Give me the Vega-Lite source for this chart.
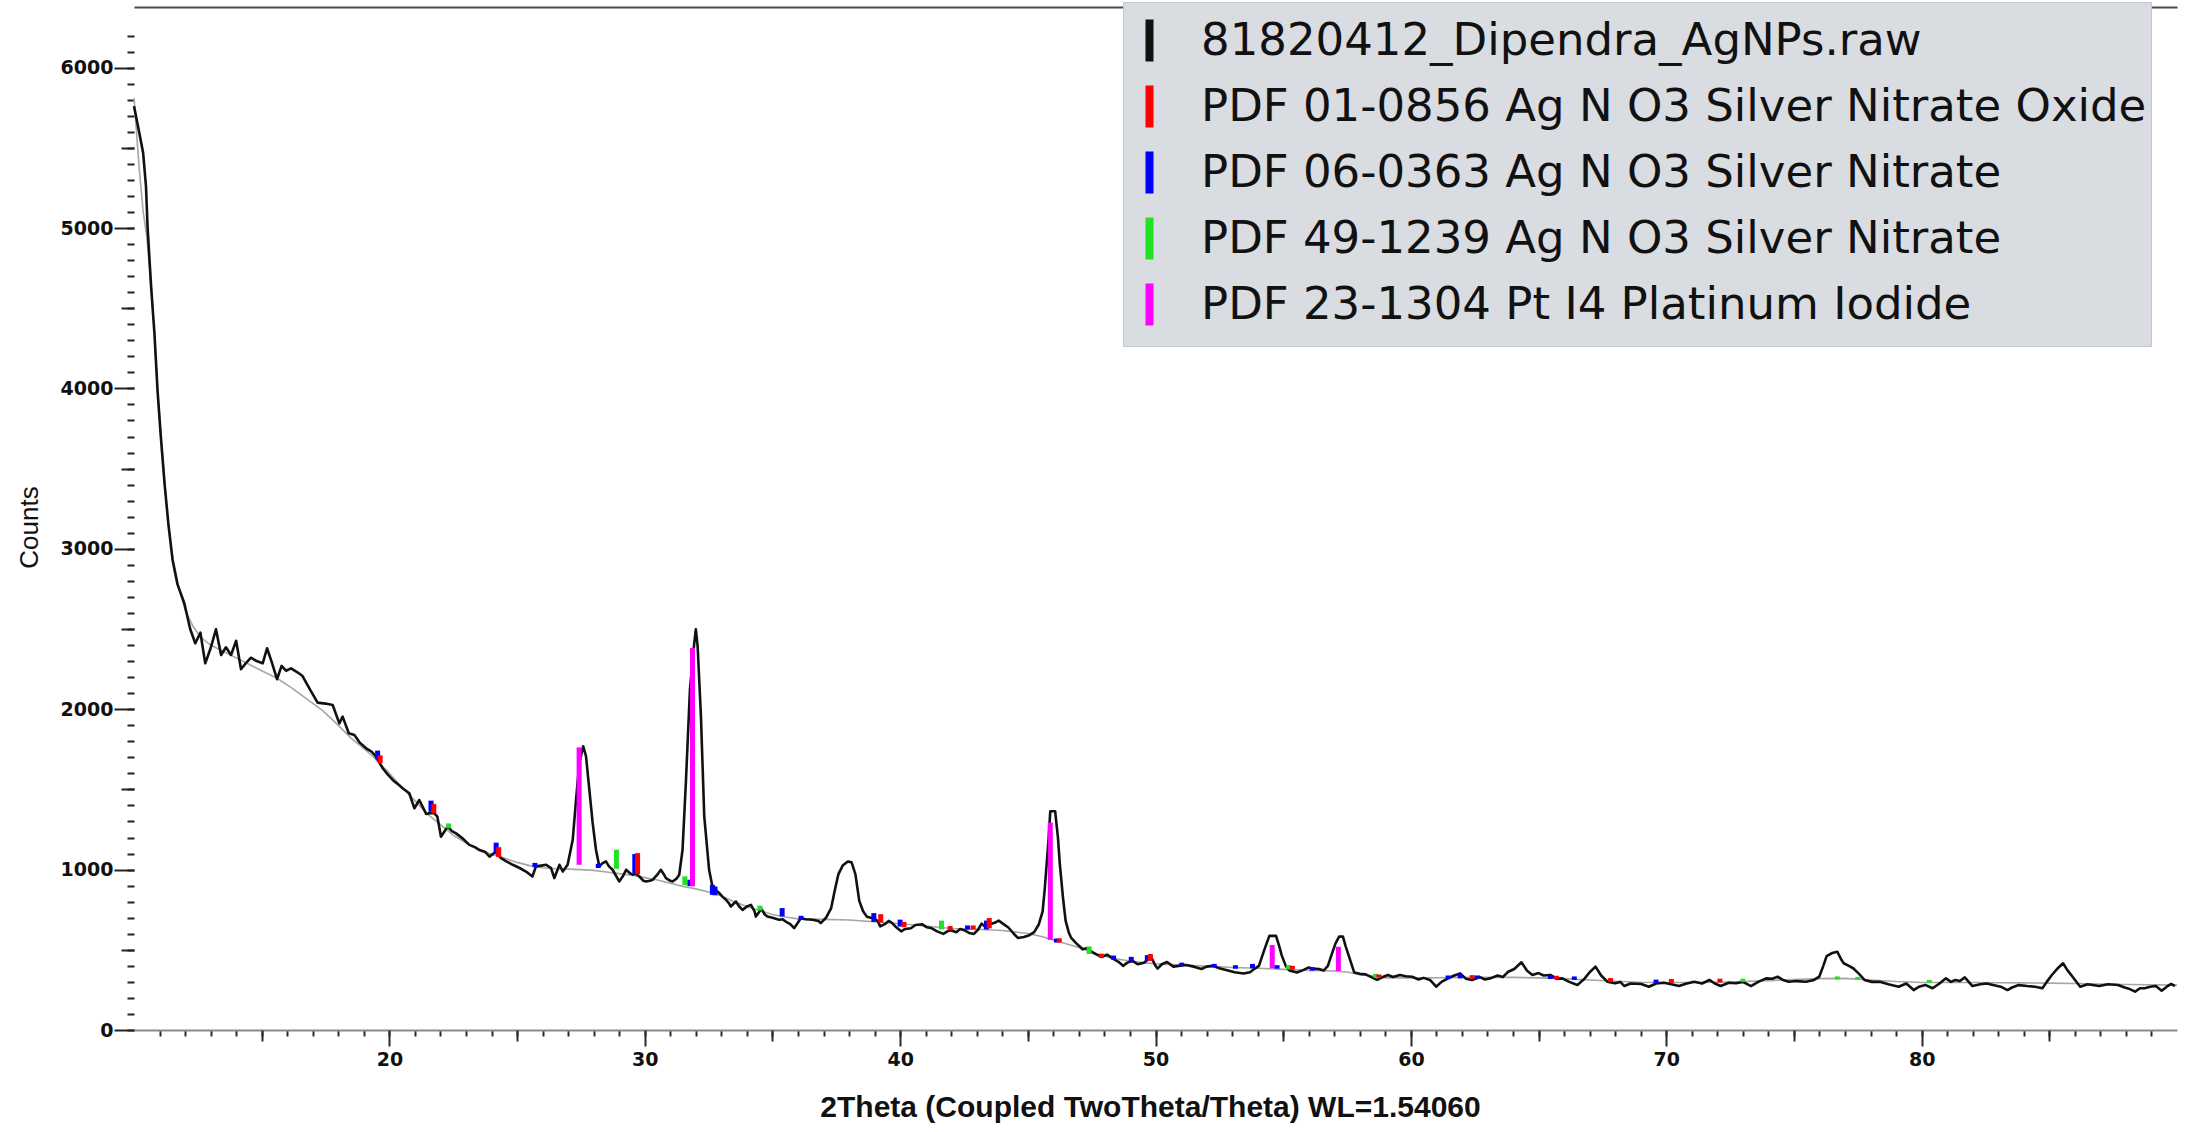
{
"$schema": "https://vega.github.io/schema/vega-lite/v6.json",
"width": 2043, "height": 1023,
"autosize": {"type": "none"},
"padding": {"left": 134, "top": 7, "right": 16, "bottom": 102},
"background": "white",
"config": {"view": {"stroke": null}, "axis": {"grid": false}},
"datasets": {
"scan": [
{"t":10.0,"c":5760},{"t":10.1,"c":5680},{"t":10.21,"c":5591},{"t":10.36,"c":5466},{"t":10.47,"c":5258},{"t":10.53,"c":5009},{"t":10.67,"c":4635},{"t":10.8,"c":4344},{"t":10.92,"c":3991},{"t":11.05,"c":3700},{"t":11.2,"c":3400},{"t":11.35,"c":3150},{"t":11.51,"c":2931},{"t":11.7,"c":2780},{"t":11.97,"c":2661},{"t":12.2,"c":2500},{"t":12.4,"c":2411},{"t":12.6,"c":2477},{"t":12.79,"c":2286},{"t":13.0,"c":2380},{"t":13.21,"c":2498},{"t":13.41,"c":2338},{"t":13.6,"c":2386},{"t":13.8,"c":2338},{"t":14.0,"c":2427},{"t":14.19,"c":2249},{"t":14.4,"c":2290},{"t":14.58,"c":2321},{"t":14.8,"c":2300},{"t":15.04,"c":2286},{"t":15.21,"c":2380},{"t":15.4,"c":2290},{"t":15.6,"c":2187},{"t":15.78,"c":2270},{"t":15.95,"c":2240},{"t":16.15,"c":2255},{"t":16.4,"c":2230},{"t":16.6,"c":2207},{"t":16.9,"c":2120},{"t":17.19,"c":2041},{"t":17.5,"c":2035},{"t":17.78,"c":2026},{"t":18.04,"c":1912},{"t":18.17,"c":1954},{"t":18.41,"c":1850},{"t":18.63,"c":1839},{"t":18.85,"c":1790},{"t":19.09,"c":1756},{"t":19.3,"c":1735},{"t":19.48,"c":1704},{"t":19.74,"c":1632},{"t":19.95,"c":1590},{"t":20.13,"c":1559},{"t":20.35,"c":1530},{"t":20.52,"c":1507},{"t":20.78,"c":1476},{"t":20.98,"c":1382},{"t":21.17,"c":1434},{"t":21.44,"c":1347},{"t":21.6,"c":1352},{"t":21.76,"c":1351},{"t":21.88,"c":1330},{"t":22.02,"c":1205},{"t":22.28,"c":1268},{"t":22.45,"c":1240},{"t":22.61,"c":1226},{"t":22.9,"c":1190},{"t":23.13,"c":1154},{"t":23.35,"c":1140},{"t":23.53,"c":1122},{"t":23.75,"c":1110},{"t":23.92,"c":1081},{"t":24.15,"c":1110},{"t":24.37,"c":1072},{"t":24.6,"c":1050},{"t":24.83,"c":1030},{"t":25.1,"c":1010},{"t":25.35,"c":988},{"t":25.6,"c":957},{"t":25.74,"c":1020},{"t":25.95,"c":1025},{"t":26.14,"c":1030},{"t":26.33,"c":1009},{"t":26.46,"c":947},{"t":26.66,"c":1030},{"t":26.79,"c":988},{"t":26.98,"c":1030},{"t":27.18,"c":1186},{"t":27.31,"c":1436},{"t":27.44,"c":1665},{"t":27.59,"c":1769},{"t":27.7,"c":1707},{"t":27.83,"c":1499},{"t":27.96,"c":1291},{"t":28.09,"c":1124},{"t":28.22,"c":1020},{"t":28.35,"c":1040},{"t":28.48,"c":1051},{"t":28.6,"c":1020},{"t":28.74,"c":999},{"t":29.0,"c":926},{"t":29.15,"c":960},{"t":29.27,"c":999},{"t":29.4,"c":980},{"t":29.52,"c":968},{"t":29.65,"c":975},{"t":29.79,"c":957},{"t":29.95,"c":930},{"t":30.05,"c":926},{"t":30.2,"c":930},{"t":30.31,"c":936},{"t":30.5,"c":970},{"t":30.63,"c":999},{"t":30.75,"c":970},{"t":30.83,"c":947},{"t":31.0,"c":930},{"t":31.09,"c":926},{"t":31.25,"c":945},{"t":31.35,"c":968},{"t":31.48,"c":1124},{"t":31.61,"c":1541},{"t":31.77,"c":2123},{"t":31.94,"c":2415},{"t":32.0,"c":2498},{"t":32.07,"c":2394},{"t":32.2,"c":1957},{"t":32.33,"c":1332},{"t":32.52,"c":999},{"t":32.65,"c":895},{"t":32.8,"c":870},{"t":32.92,"c":853},{"t":33.05,"c":830},{"t":33.18,"c":812},{"t":33.3,"c":790},{"t":33.37,"c":770},{"t":33.5,"c":790},{"t":33.57,"c":801},{"t":33.7,"c":770},{"t":33.83,"c":749},{"t":34.0,"c":770},{"t":34.16,"c":780},{"t":34.3,"c":740},{"t":34.35,"c":707},{"t":34.5,"c":740},{"t":34.55,"c":760},{"t":34.7,"c":720},{"t":34.81,"c":707},{"t":35.0,"c":700},{"t":35.26,"c":687},{"t":35.4,"c":690},{"t":35.52,"c":676},{"t":35.7,"c":660},{"t":35.85,"c":635},{"t":36.0,"c":670},{"t":36.11,"c":697},{"t":36.3,"c":690},{"t":36.57,"c":687},{"t":36.8,"c":680},{"t":36.89,"c":666},{"t":37.1,"c":700},{"t":37.3,"c":760},{"t":37.44,"c":870},{"t":37.58,"c":970},{"t":37.75,"c":1025},{"t":37.95,"c":1050},{"t":38.1,"c":1045},{"t":38.25,"c":970},{"t":38.4,"c":805},{"t":38.55,"c":740},{"t":38.7,"c":706},{"t":38.85,"c":700},{"t":39.0,"c":694},{"t":39.12,"c":680},{"t":39.22,"c":646},{"t":39.4,"c":660},{"t":39.55,"c":680},{"t":39.67,"c":670},{"t":39.85,"c":640},{"t":40.04,"c":615},{"t":40.2,"c":630},{"t":40.42,"c":634},{"t":40.6,"c":655},{"t":40.87,"c":659},{"t":41.05,"c":640},{"t":41.24,"c":634},{"t":41.45,"c":615},{"t":41.69,"c":599},{"t":41.85,"c":615},{"t":41.99,"c":622},{"t":42.2,"c":610},{"t":42.35,"c":630},{"t":42.51,"c":622},{"t":42.7,"c":605},{"t":42.89,"c":599},{"t":43.05,"c":625},{"t":43.19,"c":663},{"t":43.35,"c":640},{"t":43.49,"c":658},{"t":43.7,"c":668},{"t":43.86,"c":682},{"t":44.05,"c":660},{"t":44.24,"c":639},{"t":44.45,"c":600},{"t":44.61,"c":574},{"t":44.85,"c":580},{"t":45.06,"c":591},{"t":45.25,"c":610},{"t":45.43,"c":658},{"t":45.58,"c":740},{"t":45.66,"c":873},{"t":45.81,"c":1184},{"t":45.88,"c":1364},{"t":46.07,"c":1364},{"t":46.18,"c":1200},{"t":46.25,"c":1041},{"t":46.38,"c":820},{"t":46.48,"c":682},{"t":46.6,"c":610},{"t":46.7,"c":574},{"t":46.9,"c":540},{"t":47.15,"c":503},{"t":47.3,"c":510},{"t":47.46,"c":491},{"t":47.7,"c":470},{"t":47.9,"c":455},{"t":48.1,"c":470},{"t":48.35,"c":443},{"t":48.55,"c":425},{"t":48.73,"c":400},{"t":48.9,"c":420},{"t":49.1,"c":431},{"t":49.3,"c":410},{"t":49.55,"c":419},{"t":49.7,"c":440},{"t":49.85,"c":448},{"t":50.0,"c":400},{"t":50.08,"c":383},{"t":50.25,"c":410},{"t":50.45,"c":424},{"t":50.7,"c":395},{"t":50.9,"c":400},{"t":51.2,"c":405},{"t":51.5,"c":395},{"t":51.8,"c":380},{"t":52.0,"c":395},{"t":52.25,"c":400},{"t":52.5,"c":385},{"t":52.84,"c":371},{"t":53.1,"c":360},{"t":53.45,"c":352},{"t":53.7,"c":360},{"t":53.89,"c":383},{"t":54.05,"c":400},{"t":54.19,"c":467},{"t":54.35,"c":540},{"t":54.46,"c":587},{"t":54.72,"c":587},{"t":54.85,"c":520},{"t":54.94,"c":467},{"t":55.1,"c":400},{"t":55.24,"c":371},{"t":55.54,"c":359},{"t":55.8,"c":375},{"t":56.0,"c":390},{"t":56.14,"c":383},{"t":56.4,"c":380},{"t":56.59,"c":371},{"t":56.75,"c":400},{"t":56.89,"c":467},{"t":57.05,"c":540},{"t":57.19,"c":582},{"t":57.34,"c":582},{"t":57.45,"c":520},{"t":57.56,"c":467},{"t":57.78,"c":359},{"t":58.0,"c":350},{"t":58.23,"c":347},{"t":58.45,"c":330},{"t":58.68,"c":312},{"t":58.9,"c":330},{"t":59.1,"c":343},{"t":59.3,"c":330},{"t":59.57,"c":343},{"t":59.8,"c":335},{"t":60.05,"c":332},{"t":60.3,"c":315},{"t":60.5,"c":325},{"t":60.75,"c":312},{"t":60.99,"c":270},{"t":61.2,"c":300},{"t":61.46,"c":322},{"t":61.7,"c":340},{"t":61.93,"c":353},{"t":62.15,"c":320},{"t":62.4,"c":312},{"t":62.7,"c":330},{"t":62.9,"c":315},{"t":63.11,"c":322},{"t":63.4,"c":340},{"t":63.6,"c":330},{"t":63.81,"c":363},{"t":64.05,"c":380},{"t":64.33,"c":422},{"t":64.55,"c":370},{"t":64.76,"c":343},{"t":65.0,"c":355},{"t":65.2,"c":340},{"t":65.46,"c":343},{"t":65.7,"c":320},{"t":65.93,"c":322},{"t":66.2,"c":300},{"t":66.52,"c":281},{"t":66.8,"c":320},{"t":67.0,"c":360},{"t":67.23,"c":395},{"t":67.45,"c":340},{"t":67.7,"c":301},{"t":67.99,"c":291},{"t":68.2,"c":300},{"t":68.36,"c":274},{"t":68.6,"c":290},{"t":69.02,"c":287},{"t":69.32,"c":270},{"t":69.6,"c":290},{"t":69.91,"c":295},{"t":70.2,"c":285},{"t":70.5,"c":274},{"t":70.8,"c":290},{"t":71.1,"c":301},{"t":71.4,"c":290},{"t":71.69,"c":312},{"t":71.9,"c":290},{"t":72.13,"c":274},{"t":72.45,"c":295},{"t":72.73,"c":291},{"t":73.0,"c":300},{"t":73.32,"c":274},{"t":73.6,"c":300},{"t":73.91,"c":322},{"t":74.15,"c":320},{"t":74.36,"c":332},{"t":74.6,"c":310},{"t":74.8,"c":301},{"t":75.1,"c":305},{"t":75.47,"c":301},{"t":75.75,"c":310},{"t":75.99,"c":332},{"t":76.15,"c":400},{"t":76.28,"c":461},{"t":76.5,"c":480},{"t":76.7,"c":488},{"t":76.85,"c":440},{"t":76.95,"c":416},{"t":77.15,"c":400},{"t":77.32,"c":385},{"t":77.55,"c":350},{"t":77.76,"c":312},{"t":78.05,"c":300},{"t":78.36,"c":301},{"t":78.7,"c":285},{"t":79.1,"c":270},{"t":79.4,"c":290},{"t":79.69,"c":249},{"t":79.9,"c":270},{"t":80.14,"c":281},{"t":80.43,"c":260},{"t":80.7,"c":290},{"t":80.95,"c":322},{"t":81.15,"c":300},{"t":81.32,"c":312},{"t":81.5,"c":305},{"t":81.69,"c":328},{"t":81.99,"c":274},{"t":82.3,"c":285},{"t":82.55,"c":290},{"t":82.8,"c":281},{"t":83.1,"c":270},{"t":83.36,"c":249},{"t":83.54,"c":265},{"t":83.8,"c":280},{"t":84.13,"c":274},{"t":84.45,"c":270},{"t":84.73,"c":260},{"t":84.9,"c":300},{"t":85.1,"c":343},{"t":85.3,"c":380},{"t":85.54,"c":416},{"t":85.7,"c":375},{"t":85.91,"c":332},{"t":86.21,"c":270},{"t":86.5,"c":285},{"t":86.95,"c":274},{"t":87.3,"c":285},{"t":87.69,"c":281},{"t":87.95,"c":265},{"t":88.15,"c":255},{"t":88.36,"c":239},{"t":88.55,"c":260},{"t":88.73,"c":260},{"t":88.95,"c":270},{"t":89.17,"c":274},{"t":89.4,"c":245},{"t":89.6,"c":270},{"t":89.77,"c":287},{"t":89.92,"c":274}
],
"bg": [
{"t":10.0,"c":5810},{"t":10.2,"c":5380},{"t":10.36,"c":5100},{"t":10.5,"c":4950},{"t":10.67,"c":4635},{"t":10.8,"c":4344},{"t":10.92,"c":3991},{"t":11.1,"c":3620},{"t":11.3,"c":3220},{"t":11.5,"c":2960},{"t":11.75,"c":2760},{"t":12.0,"c":2620},{"t":12.3,"c":2520},{"t":12.6,"c":2450},{"t":13.0,"c":2400},{"t":13.5,"c":2360},{"t":14.0,"c":2320},{"t":14.5,"c":2280},{"t":15.0,"c":2240},{"t":15.6,"c":2193},{"t":16.2,"c":2130},{"t":16.8,"c":2060},{"t":17.4,"c":1990},{"t":17.9,"c":1915},{"t":18.5,"c":1820},{"t":19.0,"c":1755},{"t":19.35,"c":1705},{"t":20.0,"c":1600},{"t":20.5,"c":1510},{"t":21.0,"c":1430},{"t":21.5,"c":1345},{"t":22.0,"c":1280},{"t":22.48,"c":1216},{"t":23.0,"c":1165},{"t":23.5,"c":1125},{"t":24.0,"c":1095},{"t":24.44,"c":1075},{"t":25.0,"c":1045},{"t":25.5,"c":1025},{"t":26.0,"c":1012},{"t":26.5,"c":1005},{"t":27.0,"c":1003},{"t":27.5,"c":1000},{"t":28.0,"c":995},{"t":28.5,"c":985},{"t":29.0,"c":975},{"t":29.5,"c":965},{"t":30.0,"c":950},{"t":30.5,"c":935},{"t":31.0,"c":915},{"t":31.5,"c":895},{"t":32.0,"c":880},{"t":32.5,"c":860},{"t":33.0,"c":835},{"t":33.5,"c":800},{"t":34.0,"c":770},{"t":34.5,"c":745},{"t":35.0,"c":720},{"t":35.5,"c":705},{"t":36.0,"c":693},{"t":37.0,"c":690},{"t":38.0,"c":686},{"t":39.0,"c":675},{"t":40.0,"c":662},{"t":41.0,"c":648},{"t":42.0,"c":633},{"t":43.0,"c":628},{"t":44.0,"c":620},{"t":44.5,"c":612},{"t":45.0,"c":602},{"t":45.5,"c":585},{"t":46.0,"c":562},{"t":46.5,"c":538},{"t":47.0,"c":514},{"t":47.5,"c":485},{"t":48.0,"c":460},{"t":48.5,"c":443},{"t":49.0,"c":430},{"t":49.5,"c":420},{"t":50.0,"c":412},{"t":51.0,"c":405},{"t":52.0,"c":398},{"t":53.0,"c":390},{"t":54.0,"c":385},{"t":55.0,"c":378},{"t":56.0,"c":372},{"t":57.0,"c":368},{"t":57.5,"c":362},{"t":58.0,"c":345},{"t":58.6,"c":335},{"t":59.0,"c":325},{"t":60.0,"c":325},{"t":61.0,"c":326},{"t":62.0,"c":328},{"t":63.0,"c":328},{"t":64.0,"c":328},{"t":65.0,"c":325},{"t":66.0,"c":320},{"t":67.0,"c":312},{"t":68.0,"c":304},{"t":69.0,"c":298},{"t":70.0,"c":296},{"t":71.0,"c":296},{"t":72.0,"c":298},{"t":73.0,"c":302},{"t":74.0,"c":308},{"t":75.0,"c":314},{"t":76.0,"c":320},{"t":77.0,"c":322},{"t":78.0,"c":312},{"t":79.0,"c":302},{"t":80.0,"c":296},{"t":81.0,"c":296},{"t":82.0,"c":296},{"t":83.0,"c":295},{"t":84.0,"c":294},{"t":85.0,"c":292},{"t":86.0,"c":290},{"t":87.0,"c":287},{"t":88.0,"c":284},{"t":89.0,"c":282},{"t":90.0,"c":280}
],
"sticks": [
{"t":19.54,"lo":1690,"hi":1742,"phase":"PDF 06-0363 Ag N O3 Silver Nitrate"},
{"t":19.64,"lo":1665,"hi":1712,"phase":"PDF 01-0856 Ag N O3 Silver Nitrate Oxide"},
{"t":21.63,"lo":1360,"hi":1430,"phase":"PDF 06-0363 Ag N O3 Silver Nitrate"},
{"t":21.74,"lo":1350,"hi":1410,"phase":"PDF 01-0856 Ag N O3 Silver Nitrate Oxide"},
{"t":22.32,"lo":1258,"hi":1288,"phase":"PDF 49-1239 Ag N O3 Silver Nitrate"},
{"t":24.18,"lo":1100,"hi":1168,"phase":"PDF 06-0363 Ag N O3 Silver Nitrate"},
{"t":24.28,"lo":1078,"hi":1140,"phase":"PDF 01-0856 Ag N O3 Silver Nitrate Oxide"},
{"t":25.7,"lo":1015,"hi":1042,"phase":"PDF 06-0363 Ag N O3 Silver Nitrate"},
{"t":27.43,"lo":1030,"hi":1762,"phase":"PDF 23-1304 Pt I4 Platinum Iodide"},
{"t":28.18,"lo":1010,"hi":1036,"phase":"PDF 06-0363 Ag N O3 Silver Nitrate"},
{"t":28.89,"lo":1005,"hi":1124,"phase":"PDF 49-1239 Ag N O3 Silver Nitrate"},
{"t":29.61,"lo":978,"hi":1097,"phase":"PDF 06-0363 Ag N O3 Silver Nitrate"},
{"t":29.72,"lo":972,"hi":1103,"phase":"PDF 01-0856 Ag N O3 Silver Nitrate Oxide"},
{"t":31.57,"lo":902,"hi":958,"phase":"PDF 49-1239 Ag N O3 Silver Nitrate"},
{"t":31.77,"lo":897,"hi":937,"phase":"PDF 06-0363 Ag N O3 Silver Nitrate"},
{"t":31.87,"lo":897,"hi":2381,"phase":"PDF 23-1304 Pt I4 Platinum Iodide"},
{"t":32.65,"lo":843,"hi":905,"phase":"PDF 06-0363 Ag N O3 Silver Nitrate"},
{"t":32.75,"lo":840,"hi":895,"phase":"PDF 06-0363 Ag N O3 Silver Nitrate"},
{"t":34.51,"lo":745,"hi":775,"phase":"PDF 49-1239 Ag N O3 Silver Nitrate"},
{"t":35.38,"lo":708,"hi":760,"phase":"PDF 06-0363 Ag N O3 Silver Nitrate"},
{"t":36.12,"lo":688,"hi":712,"phase":"PDF 06-0363 Ag N O3 Silver Nitrate"},
{"t":38.97,"lo":674,"hi":729,"phase":"PDF 06-0363 Ag N O3 Silver Nitrate"},
{"t":39.24,"lo":670,"hi":722,"phase":"PDF 01-0856 Ag N O3 Silver Nitrate Oxide"},
{"t":40.0,"lo":645,"hi":688,"phase":"PDF 06-0363 Ag N O3 Silver Nitrate"},
{"t":40.15,"lo":641,"hi":674,"phase":"PDF 01-0856 Ag N O3 Silver Nitrate Oxide"},
{"t":41.62,"lo":627,"hi":682,"phase":"PDF 49-1239 Ag N O3 Silver Nitrate"},
{"t":41.96,"lo":622,"hi":648,"phase":"PDF 01-0856 Ag N O3 Silver Nitrate Oxide"},
{"t":42.64,"lo":626,"hi":652,"phase":"PDF 06-0363 Ag N O3 Silver Nitrate"},
{"t":42.86,"lo":626,"hi":652,"phase":"PDF 01-0856 Ag N O3 Silver Nitrate Oxide"},
{"t":43.38,"lo":627,"hi":682,"phase":"PDF 06-0363 Ag N O3 Silver Nitrate"},
{"t":43.49,"lo":634,"hi":698,"phase":"PDF 01-0856 Ag N O3 Silver Nitrate Oxide"},
{"t":45.88,"lo":562,"hi":1293,"phase":"PDF 23-1304 Pt I4 Platinum Iodide"},
{"t":46.12,"lo":545,"hi":570,"phase":"PDF 06-0363 Ag N O3 Silver Nitrate"},
{"t":46.23,"lo":545,"hi":572,"phase":"PDF 01-0856 Ag N O3 Silver Nitrate Oxide"},
{"t":47.4,"lo":474,"hi":521,"phase":"PDF 49-1239 Ag N O3 Silver Nitrate"},
{"t":47.88,"lo":450,"hi":476,"phase":"PDF 01-0856 Ag N O3 Silver Nitrate Oxide"},
{"t":48.36,"lo":438,"hi":464,"phase":"PDF 06-0363 Ag N O3 Silver Nitrate"},
{"t":49.05,"lo":430,"hi":456,"phase":"PDF 06-0363 Ag N O3 Silver Nitrate"},
{"t":49.68,"lo":431,"hi":467,"phase":"PDF 06-0363 Ag N O3 Silver Nitrate"},
{"t":49.8,"lo":431,"hi":474,"phase":"PDF 01-0856 Ag N O3 Silver Nitrate Oxide"},
{"t":51.03,"lo":398,"hi":420,"phase":"PDF 06-0363 Ag N O3 Silver Nitrate"},
{"t":52.3,"lo":390,"hi":412,"phase":"PDF 06-0363 Ag N O3 Silver Nitrate"},
{"t":53.13,"lo":382,"hi":404,"phase":"PDF 06-0363 Ag N O3 Silver Nitrate"},
{"t":53.8,"lo":385,"hi":412,"phase":"PDF 06-0363 Ag N O3 Silver Nitrate"},
{"t":54.57,"lo":385,"hi":530,"phase":"PDF 23-1304 Pt I4 Platinum Iodide"},
{"t":54.76,"lo":382,"hi":404,"phase":"PDF 06-0363 Ag N O3 Silver Nitrate"},
{"t":55.21,"lo":378,"hi":405,"phase":"PDF 49-1239 Ag N O3 Silver Nitrate"},
{"t":55.36,"lo":376,"hi":400,"phase":"PDF 01-0856 Ag N O3 Silver Nitrate Oxide"},
{"t":56.14,"lo":370,"hi":392,"phase":"PDF 06-0363 Ag N O3 Silver Nitrate"},
{"t":57.16,"lo":368,"hi":519,"phase":"PDF 23-1304 Pt I4 Platinum Iodide"},
{"t":58.62,"lo":328,"hi":350,"phase":"PDF 49-1239 Ag N O3 Silver Nitrate"},
{"t":58.75,"lo":326,"hi":346,"phase":"PDF 01-0856 Ag N O3 Silver Nitrate Oxide"},
{"t":61.46,"lo":318,"hi":340,"phase":"PDF 06-0363 Ag N O3 Silver Nitrate"},
{"t":61.93,"lo":322,"hi":348,"phase":"PDF 06-0363 Ag N O3 Silver Nitrate"},
{"t":62.4,"lo":320,"hi":342,"phase":"PDF 01-0856 Ag N O3 Silver Nitrate Oxide"},
{"t":62.6,"lo":320,"hi":340,"phase":"PDF 06-0363 Ag N O3 Silver Nitrate"},
{"t":65.46,"lo":318,"hi":340,"phase":"PDF 06-0363 Ag N O3 Silver Nitrate"},
{"t":65.7,"lo":316,"hi":338,"phase":"PDF 01-0856 Ag N O3 Silver Nitrate Oxide"},
{"t":66.4,"lo":312,"hi":334,"phase":"PDF 06-0363 Ag N O3 Silver Nitrate"},
{"t":67.82,"lo":300,"hi":324,"phase":"PDF 01-0856 Ag N O3 Silver Nitrate Oxide"},
{"t":69.6,"lo":294,"hi":314,"phase":"PDF 06-0363 Ag N O3 Silver Nitrate"},
{"t":70.2,"lo":294,"hi":318,"phase":"PDF 01-0856 Ag N O3 Silver Nitrate Oxide"},
{"t":72.1,"lo":296,"hi":320,"phase":"PDF 01-0856 Ag N O3 Silver Nitrate Oxide"},
{"t":73.0,"lo":300,"hi":320,"phase":"PDF 49-1239 Ag N O3 Silver Nitrate"},
{"t":76.7,"lo":316,"hi":334,"phase":"PDF 49-1239 Ag N O3 Silver Nitrate"},
{"t":77.5,"lo":314,"hi":330,"phase":"PDF 49-1239 Ag N O3 Silver Nitrate"},
{"t":80.3,"lo":294,"hi":312,"phase":"PDF 49-1239 Ag N O3 Silver Nitrate"}
]
},
"resolve": {"axis": {"x": "independent", "y": "independent"}},
"layer": [
{
"data": {"name": "bg"},
"mark": {"type": "line", "color": "#a6a6a6", "strokeWidth": 1.6},
"encoding": {
"x": {"field": "t", "type": "quantitative", "scale": {"domain": [10, 90], "nice": false, "zero": false},
"axis": {"orient": "bottom", "values": [11,12,13,14,15,16,17,18,19,20,21,22,23,24,25,26,27,28,29,30,31,32,33,34,35,36,37,38,39,40,41,42,43,44,45,46,47,48,49,50,51,52,53,54,55,56,57,58,59,60,61,62,63,64,65,66,67,68,69,70,71,72,73,74,75,76,77,78,79,80,81,82,83,84,85,86,87,88,89], "tickSize": 6, "tickWidth": 2, "tickColor": "#2a2a2a", "labels": false, "domain": true, "domainColor": "#8a8a8a", "domainWidth": 2, "title": null}},
"y": {"field": "c", "type": "quantitative", "scale": {"domain": [0, 6378], "nice": false, "zero": false},
"axis": {"orient": "left", "values": [0,100,200,300,400,500,600,700,800,900,1000,1100,1200,1300,1400,1500,1600,1700,1800,1900,2000,2100,2200,2300,2400,2500,2600,2700,2800,2900,3000,3100,3200,3300,3400,3500,3600,3700,3800,3900,4000,4100,4200,4300,4400,4500,4600,4700,4800,4900,5000,5100,5200,5300,5400,5500,5600,5700,5800,5900,6000,6100,6200], "tickSize": 7, "tickWidth": 2, "tickColor": "#222222", "labels": false, "domain": false, "title": null}}
}
},
{
"data": {"name": "scan"},
"mark": {"type": "line", "strokeWidth": 2.6, "strokeJoin": "round"},
"encoding": {
"x": {"field": "t", "type": "quantitative", "scale": {"domain": [10, 90], "nice": false, "zero": false},
"axis": {"orient": "bottom", "values": [20,30,40,50,60,70,80], "tickSize": 16, "tickWidth": 2, "tickColor": "#2a2a2a", "domain": false, "labelFont": "DejaVu Sans", "labelFontWeight": "bold", "labelFontSize": 19, "labelColor": "#111111", "labelPadding": 4, "labelFlush": false, "labelOverlap": false,
"title": "2Theta (Coupled TwoTheta/Theta) WL=1.54060", "titleFont": "Liberation Sans", "titleFontSize": 30, "titleFontWeight": "bold", "titleColor": "#111111", "titleX": 1016, "titleY": 86, "titleAlign": "center", "titleBaseline": "alphabetic"}},
"y": {"field": "c", "type": "quantitative", "scale": {"domain": [0, 6378], "nice": false, "zero": false},
"axis": {"orient": "left", "values": [0,1000,2000,3000,4000,5000,6000], "format": "d", "tickSize": 20, "tickWidth": 2, "tickColor": "#222222", "domain": false, "labelFont": "DejaVu Sans", "labelFontWeight": "bold", "labelFontSize": 19, "labelColor": "#111111", "labelPadding": 1, "labelFlush": false, "labelOverlap": false,
"title": "Counts", "titleFont": "Liberation Sans", "titleFontSize": 26, "titleFontWeight": "normal", "titleColor": "#111111", "titleX": -97, "titleY": 520, "titleAngle": -90, "titleAlign": "center", "titleBaseline": "alphabetic"}},
"color": {"datum": "81820412_Dipendra_AgNPs.raw", "type": "nominal",
"scale": {"domain": ["81820412_Dipendra_AgNPs.raw", "PDF 01-0856 Ag N O3 Silver Nitrate Oxide", "PDF 06-0363 Ag N O3 Silver Nitrate", "PDF 49-1239 Ag N O3 Silver Nitrate", "PDF 23-1304 Pt I4 Platinum Iodide"], "range": ["#111111", "#ff0000", "#0000ff", "#22e022", "#ff00ff"]},
"legend": {"title": " ", "titleFontSize": 4, "titlePadding": 8, "orient": "none", "legendX": 989, "legendY": -5, "padding": 4, "fillColor": "#d9dce0", "strokeColor": "#c4c8cc", "labelFont": "DejaVu Sans", "labelFontSize": 45, "labelColor": "#111111", "labelLimit": 1300, "labelOffset": 29, "rowPadding": -9, "symbolType": "M0,-1.75L0,1.75", "symbolSize": 576, "symbolStrokeWidth": 8, "symbolOpacity": 1,
"encode": {"symbols": {"update": {"strokeWidth": {"value": 8}, "opacity": {"value": 1}}}}}}
}
},
{
"data": {"name": "sticks"},
"mark": {"type": "rule", "strokeWidth": 5, "strokeCap": "butt"},
"encoding": {
"x": {"field": "t", "type": "quantitative", "scale": {"domain": [10, 90], "nice": false, "zero": false},
"axis": {"orient": "bottom", "values": [15,25,35,45,55,65,75,85], "tickSize": 11, "tickWidth": 2, "tickColor": "#2a2a2a", "labels": false, "domain": false, "title": null}},
"y": {"field": "lo", "type": "quantitative", "scale": {"domain": [0, 6378], "nice": false, "zero": false},
"axis": {"orient": "left", "values": [500,1500,2500,3500,4500,5500], "tickSize": 13, "tickWidth": 2, "tickColor": "#222222", "labels": false, "domain": false, "title": null}},
"y2": {"field": "hi"},
"color": {"field": "phase", "type": "nominal",
"scale": {"domain": ["81820412_Dipendra_AgNPs.raw", "PDF 01-0856 Ag N O3 Silver Nitrate Oxide", "PDF 06-0363 Ag N O3 Silver Nitrate", "PDF 49-1239 Ag N O3 Silver Nitrate", "PDF 23-1304 Pt I4 Platinum Iodide"], "range": ["#111111", "#ff0000", "#0000ff", "#22e022", "#ff00ff"]},
"legend": {"title": " ", "titleFontSize": 4, "titlePadding": 8, "orient": "none", "legendX": 989, "legendY": -5, "padding": 4, "fillColor": "#d9dce0", "strokeColor": "#c4c8cc", "labelFont": "DejaVu Sans", "labelFontSize": 45, "labelColor": "#111111", "labelLimit": 1300, "labelOffset": 29, "rowPadding": -9, "symbolType": "M0,-1.75L0,1.75", "symbolSize": 576, "symbolStrokeWidth": 8, "symbolOpacity": 1,
"encode": {"symbols": {"update": {"strokeWidth": {"value": 8}, "opacity": {"value": 1}}}}}}
}
},
{
"data": {"name": "bg"},
"mark": {"type": "line", "opacity": 0},
"encoding": {
"x": {"field": "t", "type": "quantitative", "scale": {"domain": [10, 90], "nice": false, "zero": false},
"axis": {"orient": "top", "ticks": false, "labels": false, "domain": true, "domainColor": "#4a4a4a", "domainWidth": 2, "title": null}},
"y": {"field": "c", "type": "quantitative", "scale": {"domain": [0, 6378], "nice": false, "zero": false}, "axis": null}
}
}
]
}
